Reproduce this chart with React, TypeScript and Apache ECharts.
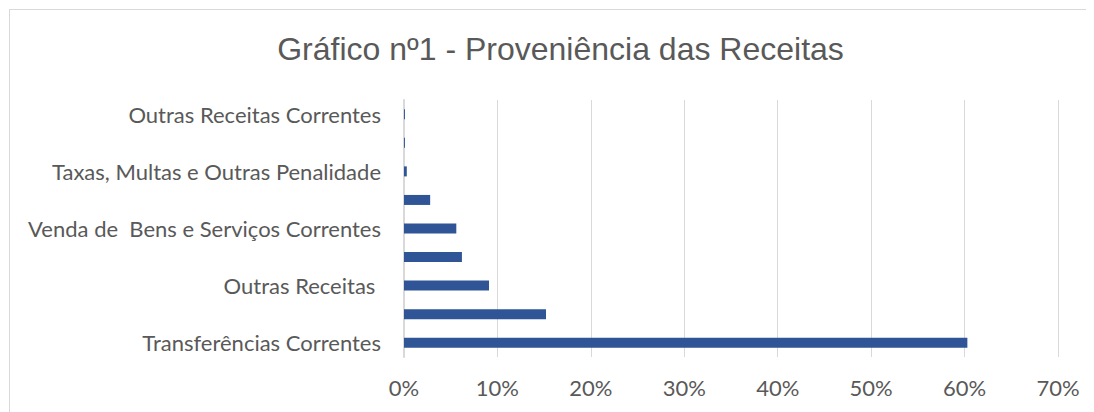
import React, { useEffect, useRef } from "react";
import * as echarts from "echarts";

const titleText = "Gráfico nº1 - Proveniência das Receitas";
const categories = [
  "Transferências Correntes",
  "Transferências de Capital",
  "Outras Receitas ",
  "Impostos Diretos",
  "Venda de  Bens e Serviços Correntes",
  "Impostos Indiretos",
  "Taxas, Multas e Outras Penalidade",
  "Rendimentos de Propriedade",
  "Outras Receitas Correntes",
];
const values = [0.603, 0.152, 0.091, 0.062, 0.056, 0.028, 0.003, 0.001, 0.001];
const xTicks = [0, 0.1, 0.2, 0.3, 0.4, 0.5, 0.6, 0.7];

export default function App() {
  const ref = useRef<HTMLDivElement>(null);
  useEffect(() => {
    if (!ref.current) return;
    const chart = echarts.init(ref.current, undefined, { renderer: "svg" });
    const gray = "#595959";
    const labelFont = "Lato, 'Open Sans', sans-serif";
    chart.setOption({
      animation: false,
      graphic: [
        {
          type: "text",
          x: 550.5,
          y: 39,
          style: {
            text: titleText,
            fill: gray,
            font: "32px 'Liberation Sans', Arial, sans-serif",
            textAlign: "center",
            textVerticalAlign: "middle",
          },
        },
      ],
      grid: { left: 394, right: 36, top: 90, bottom: 55 },
      xAxis: {
        type: "value",
        min: xTicks[0],
        max: xTicks[xTicks.length - 1],
        interval: 0.1,
        axisLine: { show: false },
        axisTick: { show: false },
        splitLine: { lineStyle: { color: "#d9d9d9", width: 1 } },
        axisLabel: {
          color: gray,
          fontSize: 22,
          fontFamily: labelFont,
          margin: 19,
          formatter: (v: number) => Math.round(v * 100) + "%",
        },
      },
      yAxis: {
        type: "category",
        data: categories,
        axisTick: { show: false },
        axisLine: { show: true, lineStyle: { color: "#d9d9d9", width: 2 } },
        axisLabel: {
          interval: 1,
          color: gray,
          fontSize: 22,
          fontFamily: labelFont,
          margin: 23,
        },
      },
      series: [
        {
          type: "bar",
          data: values,
          barWidth: 10,
          itemStyle: { color: "#2f5597" },
        },
      ],
    });
    return () => chart.dispose();
  }, []);
  return (
    <div
      style={{
        marginLeft: 1,
        marginTop: 1,
        borderLeft: "1px solid #d9d9d9",
        borderTop: "1px solid #d9d9d9",
      }}
    >
      <div ref={ref} style={{ width: 1084, height: 402 }} />
    </div>
  );
}
